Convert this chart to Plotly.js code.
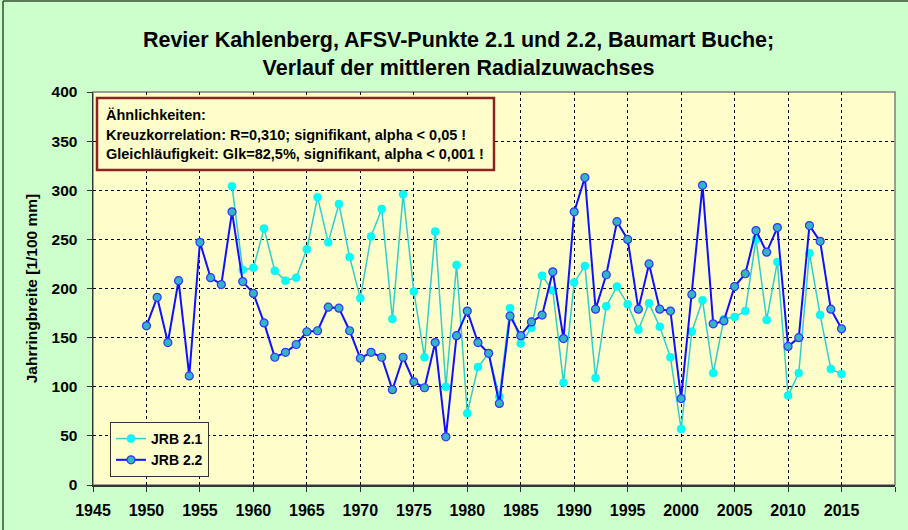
<!DOCTYPE html>
<html>
<head>
<meta charset="utf-8">
<script src="https://cdn.plot.ly/plotly-3.0.1.min.js"></script>
<style>html,body{margin:0;padding:0;background:#ccffcc;}#chart{width:908px;height:530px;}</style>
</head>
<body>
<div id="chart"></div>
<script>
const years21 = [1958,1959,1960,1961,1962,1963,1964,1965,1966,1967,1968,1969,1970,1971,1972,1973,1974,1975,1976,1977,1978,1979,1980,1981,1982,1983,1984,1985,1986,1987,1988,1989,1990,1991,1992,1993,1994,1995,1996,1997,1998,1999,2000,2001,2002,2003,2004,2005,2006,2007,2008,2009,2010,2011,2012,2013,2014,2015];
const jrb21 = [304,219,221,261,218,208,211,240,293,247,286,232,190,253,281,169,296,197,130,258,100,224,73,120,134,90,180,144,160,213,198,104,206,223,109,182,202,184,158,185,161,130,57,156,188,114,169,171,177,250,168,227,91,114,236,173,118,113];
const years22 = [1950,1951,1952,1953,1954,1955,1956,1957,1958,1959,1960,1961,1962,1963,1964,1965,1966,1967,1968,1969,1970,1971,1972,1973,1974,1975,1976,1977,1978,1979,1980,1981,1982,1983,1984,1985,1986,1987,1988,1989,1990,1991,1992,1993,1994,1995,1996,1997,1998,1999,2000,2001,2002,2003,2004,2005,2006,2007,2008,2009,2010,2011,2012,2013,2014,2015];
const jrb22 = [162,191,145,208,111,247,211,204,278,207,195,165,130,135,143,156,157,181,180,157,129,135,130,97,130,105,99,145,49,152,177,145,134,83,172,152,166,173,217,149,278,313,179,214,268,250,179,225,179,177,88,194,305,164,167,202,215,259,237,262,141,150,264,248,179,159];
const seriesNames = ["JRB 2.1","JRB 2.2"];
const titleLines = ["Revier Kahlenberg, AFSV-Punkte 2.1 und 2.2, Baumart Buche;","Verlauf der mittleren Radialzuwachses"];
const yTitle = "Jahrringbreite [1/100 mm]";
const noteLines = ["Ähnlichkeiten:","Kreuzkorrelation: R=0,310; signifikant, alpha < 0,05 !","Gleichläufigkeit: Glk=82,5%, signifikant, alpha < 0,001 !"];

const FONT = "Arial, 'Liberation Sans', sans-serif";
const traces = [
  {x: years21, y: jrb21, name: seriesNames[0], type: 'scatter', mode: 'lines+markers',
   line: {color: '#33cccc', width: 1.5},
   marker: {color: '#00ffff', size: 8, line: {color: '#00e5e5', width: 0.5}}},
  {x: years22, y: jrb22, name: seriesNames[1], type: 'scatter', mode: 'lines+markers',
   line: {color: '#1010ff', width: 2},
   marker: {color: '#33b5c5', size: 8, line: {color: '#3333ff', width: 1.2}}}
];

const L = 93, R = 895, T = 92, B = 485;
const px = v => (v - L) / (R - L);
const py = v => (B - v) / (B - T);

const annotations = noteLines.map((t, i) => ({
  xref: 'paper', yref: 'paper', x: px(104), y: py(115 + i * 19.5),
  xanchor: 'left', yanchor: 'middle', showarrow: false, text: '<b>' + t + '</b>',
  font: {family: FONT, size: 14.5, color: '#000'}
}));

const layout = {
  width: 908, height: 530,
  paper_bgcolor: '#ccffcc', plot_bgcolor: '#ffffcc',
  margin: {l: L, r: 908 - R, t: T, b: 530 - B},
  title: {text: '<b>' + titleLines.join('<br>') + '</b>', font: {family: FONT, size: 21.5, color: '#000'},
          x: 0.505, xanchor: 'center', y: 1 - 47 / 530, yanchor: 'middle', xref: 'container', yref: 'container'},
  xaxis: {range: [1945, 2020], dtick: 5, tick0: 1945, showgrid: true, gridcolor: '#000', griddash: 'dot', gridwidth: 1,
          showline: true, linecolor: '#333', linewidth: 1.5, ticks: 'outside', ticklen: 5, tickcolor: '#333',
          ticklabelstandoff: 5,
          tickfont: {family: FONT, size: 16, color: '#000', weight: 'bold'}, zeroline: false, fixedrange: true},
  yaxis: {range: [0, 400], dtick: 50, showgrid: true, gridcolor: '#000', griddash: 'dot', gridwidth: 1,
          showline: true, linecolor: '#333', linewidth: 1.5, ticks: 'outside', ticklen: 5, tickcolor: '#333',
          ticklabelstandoff: 6,
          tickfont: {family: FONT, size: 15.5, color: '#000', weight: 'bold'}, zeroline: false,
          title: {text: '<b>' + yTitle + '</b>', font: {family: FONT, size: 15.5, color: '#000'}, standoff: 10}},
  showlegend: true,
  legend: {x: px(110), y: py(422), xanchor: 'left', yanchor: 'top', bgcolor: '#ffffcc', bordercolor: '#333', borderwidth: 1,
           font: {family: FONT, size: 14, color: '#000', weight: 'bold'}, tracegroupgap: 0, itemwidth: 30},
  shapes: [
    {type: 'rect', xref: 'paper', yref: 'paper', x0: 0, x1: 1, y0: 0, y1: 1, line: {color: '#808080', width: 1.5}, layer: 'below'},
    {type: 'rect', xref: 'paper', yref: 'paper', x0: px(97), x1: px(494), y0: py(170), y1: py(98), line: {color: '#8b2323', width: 2.5}, fillcolor: '#ffffcc'},
    {type: 'line', xref: 'paper', yref: 'paper', x0: px(3), x1: px(3), y0: py(540), y1: py(1), line: {color: '#2f4f2f', width: 1.5}},
    {type: 'line', xref: 'paper', yref: 'paper', x0: px(3), x1: px(920), y0: py(1), y1: py(1), line: {color: '#2f4f2f', width: 1.5}}
  ],
  annotations: annotations
};
Plotly.newPlot('chart', traces, layout, {displayModeBar: false, staticPlot: true});
</script>
</body>
</html>
